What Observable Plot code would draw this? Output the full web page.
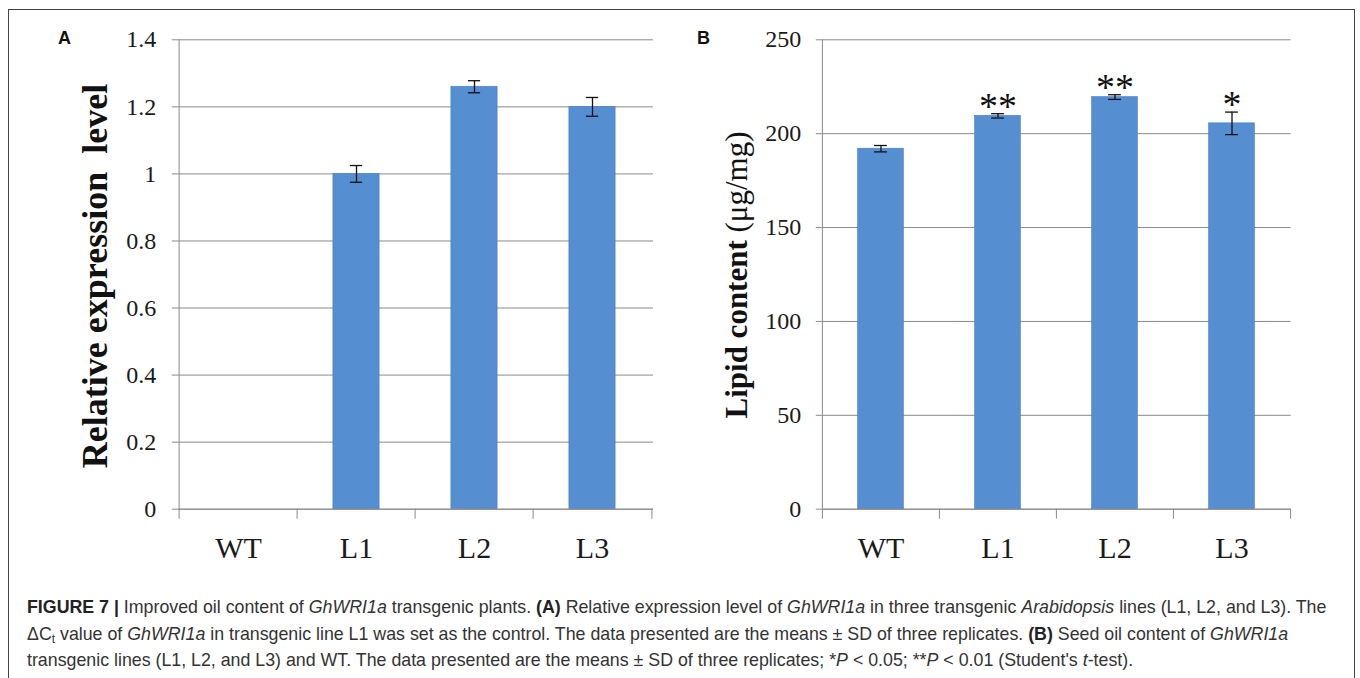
<!DOCTYPE html>
<html><head><meta charset="utf-8">
<script src="https://cdn.jsdelivr.net/npm/d3@7"></script>
<script src="https://cdn.jsdelivr.net/npm/@observablehq/plot@0.6"></script>
<style>
body{margin:0;background:#fff;width:1360px;height:678px;overflow:hidden;position:relative;font-family:"Liberation Sans",Arial,sans-serif}
#frame{position:absolute;left:8px;top:9px;width:1347px;height:720px;border:1px solid #444;box-sizing:border-box}
#pa{position:absolute;left:0;top:0}
#pb{position:absolute;left:680px;top:0}
.letter{position:absolute;font:bold 18px "Liberation Sans",Arial,sans-serif;color:#111;line-height:18px}
#caption{position:absolute;left:27px;top:594px;font-size:17.8px;line-height:26.5px;color:#333;white-space:nowrap}
#caption > div{height:26.5px}
#caption b{color:#222}
#caption sub{font-size:12px;line-height:0;vertical-align:-3px}
</style></head>
<body>
<div id="frame"></div>
<div id="pa"></div>
<div id="pb"></div>
<div class="letter" style="left:58px;top:29px">A</div>
<div class="letter" style="left:697px;top:29px">B</div>
<div id="caption">
<div><b>FIGURE 7 |</b> Improved oil content of <i>GhWRI1a</i> transgenic plants. <b>(A)</b> Relative expression level of <i>GhWRI1a</i> in three transgenic <i>Arabidopsis</i> lines (L1, L2, and L3). The</div>
<div>ΔC<sub>t</sub> value of <i>GhWRI1a</i> in transgenic line L1 was set as the control. The data presented are the means ± SD of three replicates. <b>(B)</b> Seed oil content of <i>GhWRI1a</i></div>
<div>transgenic lines (L1, L2, and L3) and WT. The data presented are the means ± SD of three replicates; *<i>P</i> &lt; 0.05; **<i>P</i> &lt; 0.01 (Student's <i>t</i>-test).</div>
</div>
<script>
// ---- data ----
const categories = ["WT", "L1", "L2", "L3"];
const exprMean = [null, 1.0, 1.26, 1.2];
const exprSD = [null, 0.025, 0.018, 0.028];
const lipidMean = [192, 209.5, 219.5, 205.5];
const lipidSD = [1.7, 1.15, 1.25, 6];
const lipidSig = ["", "**", "**", "*"];
const yTicksA = [0, 0.2, 0.4, 0.6, 0.8, 1, 1.2, 1.4];
const yTicksB = [0, 50, 100, 150, 200, 250];

const dataA = categories.map((c, i) => ({cat: c, mean: exprMean[i], sd: exprSD[i]})).filter(d => d.mean != null);
const dataB = categories.map((c, i) => ({cat: c, mean: lipidMean[i], sd: lipidSD[i], sig: lipidSig[i]}));

const BAR = "#568ed2", GRID = "#8a8a8a", SERIF = "'Liberation Serif','Times New Roman',serif";

function panel(data, cfg) {
  const W = 680, H = 580;
  const bw = (W - cfg.ml - cfg.mr) / categories.length;
  const barInset = (bw - cfg.barW) / 2;
  const capInset = (bw - 13) / 2;
  const marks = [
    Plot.gridY(cfg.ticks, {stroke: GRID, strokeOpacity: 1}),
    Plot.ruleX([categories[0]], {dx: -bw / 2, y1: 0, y2: cfg.max, stroke: GRID}),
    Plot.ruleX(categories, {dx: -bw / 2, y1: 0, y2: 0, insetBottom: -10, stroke: GRID}),
    Plot.ruleX([categories[categories.length - 1]], {dx: bw / 2, y1: 0, y2: 0, insetBottom: -10, stroke: GRID}),
    Plot.barY(data, {x: "cat", y: "mean", fill: BAR, stroke: "#4a7fc2", strokeWidth: 0.6, insetLeft: barInset, insetRight: barInset}),
    Plot.ruleY([0], {stroke: GRID}),
    Plot.ruleX(data, {x: "cat", y1: d => d.mean - d.sd, y2: d => d.mean + d.sd, stroke: "#111", strokeWidth: 1.3}),
    Plot.tickY(data, {x: "cat", y: d => d.mean + d.sd, stroke: "#111", strokeWidth: 1.3, insetLeft: capInset, insetRight: capInset}),
    Plot.tickY(data, {x: "cat", y: d => d.mean - d.sd, stroke: "#111", strokeWidth: 1.3, insetLeft: capInset, insetRight: capInset}),
    Plot.axisY(cfg.ticks, {tickSize: 6, tickPadding: cfg.tp, stroke: GRID, fill: "#1a1a1a", fontSize: 24, fontFamily: SERIF, tickFormat: d => String(d), label: null}),
    Plot.axisX({tickSize: 0, tickPadding: 27, fontSize: 30, fontFamily: SERIF, fill: "#1a1a1a", label: null})
  ];
  if (cfg.sig) marks.push(Plot.text(data, {x: "cat", y: d => d.mean + d.sd, text: "sig", fontSize: 38, fontFamily: SERIF, fill: "#111", lineAnchor: "middle", dy: -7}));
  const svg = Plot.plot({
    width: W, height: H,
    marginLeft: cfg.ml, marginRight: cfg.mr, marginTop: 39.3, marginBottom: H - 508.7,
    x: {type: "band", domain: categories, padding: 0},
    y: {domain: [0, cfg.max]},
    style: {fontFamily: SERIF, background: "transparent", overflow: "visible"},
    marks
  });
  const lab = d3.select(svg).append("text")
    .attr("transform", `translate(${cfg.lx},${cfg.ly}) rotate(-90)`)
    .attr("text-anchor", "middle").attr("dominant-baseline", "central")
    .attr("font-family", SERIF).attr("font-size", cfg.lfs).attr("font-weight", "bold")
    .attr("fill", "#111").style("white-space", "pre");
  lab.append("tspan").text(cfg.label[0]);
  if (cfg.label[1]) lab.append("tspan").attr("font-weight", "normal").text(cfg.label[1]);
  return svg;
}

document.getElementById("pa").append(panel(dataA, {
  ml: 177.8, mr: 27, max: 1.4, ticks: yTicksA, tp: 16, barW: 47,
  lx: 95, ly: 276, lfs: 36, label: ["Relative expression  level"]
}));
document.getElementById("pb").append(panel(dataB, {
  ml: 141.8, mr: 69.4, max: 250, ticks: yTicksB, tp: 15, barW: 46, sig: true,
  lx: 56, ly: 275, lfs: 31, label: ["Lipid content ", "(\u03bcg/mg)"]
}));
</script>
</body></html>
